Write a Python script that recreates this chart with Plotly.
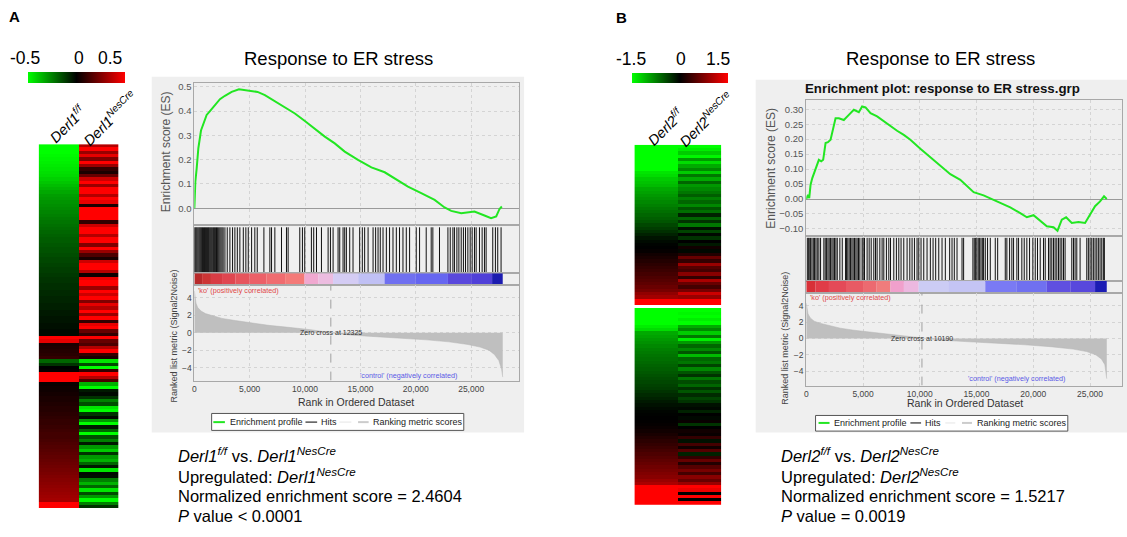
import plotly.graph_objects as go

W, H = 1127, 537

# ---------------- data ----------------
cbar_labels_A = ["-0.5", "0", "0.5"]
cbar_labels_B = ["-1.5", "0", "1.5"]
col_labels_A = ["<i>Derl1</i><sup><i>f/f</i></sup>", "<i>Derl1</i><sup><i>NesCre</i></sup>"]
col_labels_B = ["<i>Derl2</i><sup><i>f/f</i></sup>", "<i>Derl2</i><sup><i>NesCre</i></sup>"]

heat_A_ff = [-0.5, -0.5, -0.5, -0.49, -0.48, -0.47, -0.46, -0.45, -0.44, -0.43,
             -0.41, -0.39, -0.37, -0.35, -0.33, -0.31, -0.3, -0.29, -0.28, -0.27,
             -0.26, -0.25, -0.24, -0.23, -0.22, -0.21, -0.2, -0.19, -0.18, -0.18,
             -0.17, -0.16, -0.16, -0.15, -0.14, -0.14, -0.13, -0.12, -0.12, -0.11,
             -0.1, -0.1, -0.09, -0.09, -0.08, -0.08, -0.07, -0.07, -0.06, -0.06,
             -0.05, -0.05, -0.04, -0.04, -0.03, -0.03, -0.02, -0.02,
             0.5, 0.45,
             0.05, 0.06, 0.07, 0.08, 0.1,
             -0.2, -0.1,
             0.0, 0.01,
             0.5, 0.5, 0.5,
             0.02, 0.03, 0.03, 0.04, 0.05, 0.05, 0.06, 0.07, 0.07, 0.08, 0.09, 0.1,
             0.1, 0.11, 0.12, 0.13, 0.13, 0.14, 0.15, 0.16, 0.17, 0.18, 0.19, 0.2,
             0.21, 0.22, 0.23, 0.24, 0.25, 0.26, 0.27, 0.28, 0.29, 0.3, 0.31, 0.32,
             0.5, 0.5]
heat_A_nes = [0.35, 0.5, 0.3, 0.45, 0.25, 0.5, 0.3, 0.1, 0.05, 0.2,
              0.4, 0.5, 0.3, 0.5, 0.5, 0.35, 0.5, 0.45, 0.05, 0.5,
              0.5, 0.5, 0.5, 0.1, 0.4, 0.5, 0.5, 0.35, 0.5, 0.5,
              0.25, 0.5, 0.3, 0.15, 0.05, 0.4, 0.5, 0.5, 0.35, 0.02,
              0.45, 0.5, 0.5, 0.3, 0.5, 0.4, 0.5, 0.25, 0.45, 0.35,
              0.5, 0.3, 0.5, 0.1, 0.45, 0.5, 0.2, 0.1,
              0.5, 0.2, 0.15, 0.35, 0.5, 0.1, 0.05, -0.45, -0.15, -0.5, 0.1, 0.5, 0.35, 0.15,
              -0.35, -0.5, -0.05, -0.02, -0.1, -0.25, -0.15, -0.45, -0.5, -0.1,
              -0.02, -0.3, -0.5, -0.05, -0.2, -0.5, -0.15, -0.25, -0.05, -0.3,
              -0.4, -0.1, -0.3, -0.35, -0.2, -0.05, -0.45, -0.02, -0.03, -0.25,
              -0.35, -0.2, -0.45, -0.15, -0.3, -0.5, -0.25, -0.1]

heat_B_ff = [-1.5, -1.5, -1.5, -1.5, -1.5, -1.5, -1.5, -1.5,
             -1.35, -1.3,
             -1.2, -1.15, -1.1,
             -1.0, -0.95, -0.9, -0.85, -0.8, -0.75, -0.7, -0.65, -0.6, -0.55, -0.5, -0.42, -0.35, -0.28,
             -0.2, -0.12, -0.06, -0.02, 0.0, 0.03,
             0.1, 0.15, 0.2, 0.25, 0.3, 0.35, 0.4, 0.45, 0.5, 0.55, 0.62, 0.7,
             0.85, 0.95,
             1.5, 1.5,
             None,
             -1.5, -1.5, -1.5, -1.5, -1.5,
             -1.4, -1.3,
             -1.0, -0.95, -0.9, -0.85, -0.8,
             -0.75, -0.72, -0.68, -0.65, -0.62, -0.58, -0.55, -0.52, -0.48, -0.45, -0.42, -0.38,
             -0.35, -0.3, -0.25, -0.2, -0.15,
             -0.1, -0.06, -0.03, -0.01, 0.0, 0.01, 0.03, 0.06, 0.1,
             0.15, 0.2, 0.25, 0.3, 0.35, 0.4, 0.45, 0.5, 0.55, 0.6, 0.65, 0.7, 0.75, 0.8, 0.9, 1.0,
             1.5, 1.5, 1.5, 1.5, 1.5, 1.5]
heat_B_nes = [-1.5, -1.4, -1.2, -1.45, -0.9, -1.3, -1.0, -0.8,
              -1.2, -0.7, -1.0, -0.6, -0.9,
              -0.8, -0.7, -0.55, -0.75, -0.6, -0.8, -0.5, -0.65, -0.2, -0.6, -0.3, -0.7, -0.1, -0.4,
              -0.05, -0.3, 0.0, -0.15, 0.1, -0.05,
              0.2, 0.6, 0.3, 0.9, 0.5, 0.4, 0.8, 0.3, 1.0, 0.6, 0.4, 0.7,
              1.2, 0.9,
              1.5, 1.5,
              None,
              -1.5, -1.45, -1.5, -1.4, -1.5,
              -1.0, -0.8, -1.2, -0.7, -1.4, -0.9, -0.6,
              -0.8, -0.5, -1.1, -0.6, -0.7, -0.4, -0.8, -0.5, -0.3, -0.7, -0.45, -0.6, -0.3,
              -0.5, -0.25, -0.4, -0.3,
              -0.1, -0.05, -0.2, 0.0, -0.05, 0.05, -0.3, 0.0, 0.1,
              0.05, 0.3, -0.1, 0.4, 0.1, 0.5, -0.2, 0.3, 0.6, 0.2, 0.5, 0.7, 0.4, 0.8, 0.6, 0.9,
              1.5, 1.4, 0.0, 1.5, 0.0, 1.5]

# GSEA A (Derl1)
es_rank_A = [0, 90, 210, 360, 600, 810, 1110, 1410, 1860, 2310, 2760, 3370, 4030, 4570,
             5170, 5710, 6370, 7270, 8170, 9080, 9980, 10880, 11780, 12680, 13580, 14780,
             15990, 17190, 18390, 19290, 20490, 21700, 22600, 23200, 24100, 25300, 26200,
             26800, 27260, 27560, 27770]
es_val_A = [0.0, 0.11, 0.164, 0.247, 0.32, 0.35, 0.384, 0.40, 0.425, 0.449, 0.463, 0.479,
            0.49, 0.486, 0.482, 0.479, 0.466, 0.441, 0.418, 0.39, 0.359, 0.326, 0.295, 0.267,
            0.233, 0.199, 0.168, 0.148, 0.116, 0.089, 0.062, 0.034, 0.003, -0.011, -0.021,
            -0.014, -0.03, -0.041, -0.034, -0.003, 0.007]
hits_A = [0, 80, 160, 240, 330, 420, 500, 580, 660, 740, 830, 920, 1000, 1090, 1180, 1270,
          1350, 1440, 1530, 1620, 1720, 1810, 1900, 2000, 2100, 2200, 2300, 2400, 2500, 2600,
          2760, 2970, 3210, 3450, 3660, 3880, 4110, 4420, 4650, 4870, 5170, 5460, 5680,
          6280, 6820, 6970, 7270, 7870, 8320, 8470, 9520, 9760, 9970, 10570, 10780, 11030,
          11480, 12080, 12290, 12530, 12980, 13130, 13430, 13580, 13730, 14030, 14330, 14930,
          15170, 15380, 15690, 16140, 16370, 16590, 16790, 17040, 17340, 17630, 17940, 18240,
          18530, 18840, 19140, 19440, 20040, 20340, 20940, 21390, 21540, 22140, 22900, 23110,
          23350, 23490, 23710, 23890, 24100, 24300, 24490, 24700, 24910, 25090, 25300, 25450,
          25750, 25990, 26200, 26350, 26950, 27190, 27400, 27700]
bar_edges_A = [0, 700, 1500, 2500, 3700, 5000, 6500, 8200, 9950, 11200, 12530, 14800, 17180,
               20000, 22900, 25000, 26890, 27850]
bar_colors_A = ["#b82a2a", "#cc3535", "#d83c44", "#e04650", "#e6545c", "#ec6068", "#f06c70",
                "#f47a78", "#f0a8d0", "#ecbce0", "#d4ccf4", "#c0c0f4", "#7070f0", "#6666f0",
                "#5a48dc", "#5040d8", "#1c1cb0"]
metric_rank_A = [0, 60, 150, 300, 600, 1000, 1600, 2500, 3700, 5000, 6700, 8500, 10500, 12325,
                 14000, 16000, 18500, 21000, 23000, 24700, 25800, 26600, 27100, 27500, 27750, 27850]
metric_val_A = [4.8, 4.0, 3.4, 2.9, 2.5, 2.2, 1.95, 1.65, 1.4, 1.15, 0.85, 0.62, 0.35, 0.0,
                -0.25, -0.42, -0.6, -0.82, -1.05, -1.35, -1.65, -2.0, -2.5, -3.2, -4.2, -5.1]
zero_cross_A = 12325

# GSEA B (Derl2)
es_rank_B = [0, 150, 260, 380, 530, 730, 910, 1110, 1320, 1490, 1700, 1910, 2140, 2370, 2580,
             2870, 3310, 3750, 4190, 4630, 4920, 5220, 5660, 6240, 6830, 7420, 8000, 8590, 9170,
             10050, 10930, 11810, 12690, 13570, 14160, 14740, 15620, 16350, 17090, 17970, 18850,
             19430, 20020, 20610, 21190, 21780, 22130, 22510, 22890, 23390, 23980, 24560, 25000,
             25440, 25880, 26230, 26470]
es_val_B = [0.0, 0.014, 0.003, 0.048, 0.07, 0.092, 0.109, 0.131, 0.126, 0.131, 0.187, 0.19,
            0.198, 0.242, 0.27, 0.27, 0.264, 0.281, 0.298, 0.29, 0.309, 0.306, 0.287, 0.276,
            0.259, 0.242, 0.228, 0.214, 0.198, 0.168, 0.139, 0.109, 0.083, 0.064, 0.042, 0.023,
            0.012, 0.0, -0.013, -0.028, -0.047, -0.061, -0.054, -0.072, -0.091, -0.094, -0.106,
            -0.069, -0.061, -0.08, -0.077, -0.08, -0.052, -0.024, -0.008, 0.009, 0.0]
hits_B = [90, 180, 260, 380, 500, 620, 730, 850, 970, 1110, 1260, 1550, 1670, 1790, 1910, 2020,
          2140, 2260, 2370, 2490, 2610, 2730, 2960, 3170, 3460, 3550, 3660, 3780, 3900, 4020,
          4130, 4250, 4370, 4480, 4600, 4720, 4920, 5010, 5130, 5360, 5540, 5720, 5950, 6100,
          6240, 6480, 6680, 6830, 7060, 7270, 7420, 7710, 7940, 8150, 8350, 8590, 8880, 9120,
          9320, 9530, 9760, 9910, 10110, 10350, 10640, 10930, 11170, 11400, 11670, 11960, 12250,
          12630, 12840, 13040, 13280, 13720, 13860, 14680, 14800, 14920, 15030, 15150, 15270,
          15390, 15510, 15620, 15770, 15970, 16210, 16650, 16860, 17530, 17670, 17910, 18110,
          18260, 18550, 18700, 18990, 19200, 19430, 19670, 19960, 20170, 20370, 20610, 20900,
          21050, 21340, 21480, 21630, 21780, 21920, 22070, 22220, 22360, 22510, 22660, 22800,
          23390, 23540, 23680, 23830, 24120, 24710, 24850, 25000, 25150, 25290, 25440, 25590,
          25730, 25880, 26030, 26170, 26260]
bar_edges_B = [0, 800, 2000, 3500, 5000, 6200, 7410, 8600, 9900, 12500, 15770, 18500, 21190,
               23300, 25440, 26470]
bar_colors_B = ["#d83038", "#e03c48", "#e44a58", "#e85a64", "#ec6a70", "#f07c7c", "#f0a0cc",
                "#ecb8e0", "#ccccf4", "#c4c4f4", "#7a7af4", "#7070f0", "#6050e0", "#5848dc",
                "#1c1cb4"]
metric_rank_B = [0, 50, 150, 350, 700, 1200, 2000, 3000, 4200, 5600, 7000, 8500, 10190, 12000,
                 14000, 16500, 19000, 21500, 23500, 24700, 25500, 26000, 26300, 26470]
metric_val_B = [4.3, 3.6, 3.0, 2.5, 2.1, 1.85, 1.55, 1.25, 1.0, 0.78, 0.52, 0.3, 0.0, -0.22,
                -0.38, -0.55, -0.75, -1.0, -1.3, -1.6, -2.0, -2.5, -3.2, -4.9]
zero_cross_B = 10190

stats_A = ["<i>Derl1</i><sup><i>f/f</i></sup> vs. <i>Derl1</i><sup><i>NesCre</i></sup>",
           "Upregulated: <i>Derl1</i><sup><i>NesCre</i></sup>",
           "Normalized enrichment score = 2.4604",
           "<i>P</i> value &lt; 0.0001"]
stats_B = ["<i>Derl2</i><sup><i>f/f</i></sup> vs. <i>Derl2</i><sup><i>NesCre</i></sup>",
           "Upregulated: <i>Derl2</i><sup><i>NesCre</i></sup>",
           "Normalized enrichment score = 1.5217",
           "<i>P</i> value = 0.0019"]

# ---------------- helpers ----------------
FONT = "Liberation Sans, Arial, sans-serif"


def fx(px):
    return px / W


def fy(py):
    return 1 - py / H


def xdom(a, b):
    return [fx(a), fx(b)]


def ydom(top, bottom):
    return [fy(bottom), fy(top)]


GREEN = "#22e622"
cs = [[0, "#00ff00"], [0.5, "#000000"], [1, "#ff0000"]]

fig = go.Figure()
layout = dict(width=W, height=H, margin=dict(l=0, r=0, t=0, b=0),
              paper_bgcolor="white", plot_bgcolor="white", showlegend=False,
              font=dict(family=FONT, color="#000"))
annotations = []
shapes = []


def ann(text, x, y, size, color="#000", xanchor="center", yanchor="middle", angle=0, **kw):
    annotations.append(dict(text=text, x=fx(x), y=fy(y), xref="paper", yref="paper",
                            showarrow=False, xanchor=xanchor, yanchor=yanchor, textangle=angle,
                            font=dict(size=size, color=color, family=FONT), **kw))


def heatmap(ax_id, ff, nes, zr, x0, x1, top, bottom, cb_center, cb_top, cb_len, cb_th):
    xa = "x" if ax_id == 1 else f"x{ax_id}"
    ya = "y" if ax_id == 1 else f"y{ax_id}"
    z = [[a, b] for a, b in zip(ff, nes)]
    fig.add_trace(go.Heatmap(z=z, x=[0, 1], y=list(range(len(z))), colorscale=cs,
                             zmin=-zr, zmax=zr, xaxis=xa, yaxis=ya, hoverinfo="skip",
                             colorbar=dict(orientation="h", x=fx(cb_center), xanchor="center",
                                           y=fy(cb_top), yanchor="top", len=cb_len,
                                           lenmode="pixels", thickness=cb_th,
                                           thicknessmode="pixels", showticklabels=False,
                                           ticks="", outlinewidth=0, xpad=0, ypad=0)))
    kx = "xaxis" if ax_id == 1 else f"xaxis{ax_id}"
    ky = "yaxis" if ax_id == 1 else f"yaxis{ax_id}"
    layout[kx] = dict(domain=xdom(x0, x1), anchor=ya, visible=False, range=[-0.5, 1.5])
    layout[ky] = dict(domain=ydom(top, bottom), anchor=xa, visible=False,
                      range=[len(z) - 0.5, -0.5])


def gsea(base, left, right, xmax, es_top, es_bot, hit_bot, bar_bot, met_bot,
         es_range, es_ticks, es_fmt, met_range,
         es_rank, es_val, hits, edges, colors, m_rank, m_val, zc):
    ids = [base, base + 1, base + 2, base + 3]  # ES, hits, bar, metric
    doms = [(es_top, es_bot), (es_bot, hit_bot), (hit_bot, bar_bot), (bar_bot, met_bot)]
    axline = dict(showline=True, linecolor="#a8a8a8", linewidth=1, mirror=True)
    grid = dict(showgrid=True, gridcolor="#d4d4d4", griddash="dot", gridwidth=1)
    for i, (aid, (t, b)) in enumerate(zip(ids, doms)):
        xa = dict(domain=xdom(left, right), anchor=f"y{aid}", range=[0, xmax],
                  tickvals=[0, 5000, 10000, 15000, 20000, 25000], zeroline=False,
                  showticklabels=(i == 3), tickformat=",", ticks="",
                  tickfont=dict(size=8.5, color="#444"), **axline, **grid)
        layout[f"xaxis{aid}"] = xa
        ya = dict(domain=ydom(t, b), anchor=f"x{aid}", ticks="", **axline)
        if i == 0:
            ya.update(range=es_range, tickvals=es_ticks, tickformat=es_fmt, zeroline=True,
                      zerolinecolor="#9a9a9a", zerolinewidth=1,
                      tickfont=dict(size=9.5, color="#555"), **grid)
        elif i == 3:
            ya.update(range=met_range, tickvals=[-4, -2, 0, 2, 4], zeroline=False,
                      tickfont=dict(size=8.5, color="#444"), **grid)
        else:
            ya.update(range=[0, 1.04], showticklabels=False, showgrid=False, zeroline=False)
        layout[f"yaxis{aid}"] = ya
    # enrichment profile
    fig.add_trace(go.Scatter(x=es_rank, y=es_val, mode="lines", line=dict(color=GREEN, width=2),
                             xaxis=f"x{ids[0]}", yaxis=f"y{ids[0]}", hoverinfo="skip"))
    # hits
    hx, hy = [], []
    for h in hits:
        hx += [h, h, None]
        hy += [0, 1, None]
    fig.add_trace(go.Scatter(x=hx, y=hy, mode="lines", line=dict(color="#111", width=1),
                             xaxis=f"x{ids[1]}", yaxis=f"y{ids[1]}", hoverinfo="skip"))
    # ranking colour bar
    centers = [(a + b) / 2 for a, b in zip(edges[:-1], edges[1:])]
    widths = [b - a for a, b in zip(edges[:-1], edges[1:])]
    fig.add_trace(go.Bar(x=centers, y=[1.04] * len(centers), width=widths, base=0,
                         marker=dict(color=colors, line=dict(width=0)),
                         xaxis=f"x{ids[2]}", yaxis=f"y{ids[2]}", hoverinfo="skip"))
    # ranked list metric
    fig.add_trace(go.Scatter(x=m_rank, y=m_val, mode="lines", fill="tozeroy",
                             fillcolor="#bfbfbf", line=dict(color="#b5b5b5", width=0.5),
                             xaxis=f"x{ids[3]}", yaxis=f"y{ids[3]}", hoverinfo="skip"))
    shapes.append(dict(type="line", xref=f"x{ids[3]}", yref=f"y{ids[3]}", x0=zc, x1=zc,
                       y0=met_range[0], y1=met_range[1],
                       line=dict(color="#a0a0a0", width=1, dash="dash")))
    annotations.append(dict(text=f"Zero cross at {zc}", x=zc, y=0, xref=f"x{ids[3]}",
                            yref=f"y{ids[3]}", showarrow=False,
                            font=dict(size=7, color="#333", family=FONT)))


# ---------------- panel A ----------------
ann("<b>A</b>", 13, 15, 15)
ann("Response to ER stress", 337, 57, 18.5)
heatmap(1, heat_A_ff, heat_A_nes, 0.5, 36.7, 116.7, 142.7, 508, 74.5, 70, 97, 11)
for t, x in zip(cbar_labels_A, [23, 77.5, 108]):
    ann(t, x, 56, 17.5)
ann(col_labels_A[0], 65, 122, 14.5, angle=-45)
ann(col_labels_A[1], 108, 116, 14.5, angle=-45)

shapes.append(dict(type="rect", xref="paper", yref="paper", x0=fx(150), x1=fx(523),
                   y0=fy(432), y1=fy(75), fillcolor="#efefef", line=dict(width=0),
                   layer="below"))
gsea(2, 192.7, 517.7, 29300, 81.7, 224.3, 272.3, 284.3, 380,
     [-0.071, 0.514], [0.0, 0.1, 0.2, 0.3, 0.4, 0.5], ".1f", [-5.5, 5.46],
     es_rank_A, es_val_A, hits_A, bar_edges_A, bar_colors_A, metric_rank_A, metric_val_A,
     zero_cross_A)
ann("Enrichment score (ES)", 165, 150, 12, "#555", angle=-90)
ann("Ranked list metric (Signal2Noise)", 172, 335, 9, "#444", angle=-90)
ann("Rank in Ordered Dataset", 355, 401.7, 10.5, "#333")
ann("'ko' (positively correlated)", 194, 289.5, 7.2, "#e04848", xanchor="left")
ann("'control' (negatively correlated)", 407, 375, 7.2, "#5a5ae6")

# ---------------- panel B ----------------
ann("<b>B</b>", 621, 16, 15)
ann("Response to ER stress", 940, 57, 18.5)
heatmap(10, heat_B_ff, heat_B_nes, 1.5, 633.5, 720.5, 143.3, 505, 679, 71, 96, 10)
for t, x in zip(cbar_labels_B, [630, 680, 717]):
    ann(t, x, 57, 17.5)
ann(col_labels_B[0], 664, 125, 14.5, angle=-45)
ann(col_labels_B[1], 705, 117, 14.5, angle=-45)

shapes.append(dict(type="rect", xref="paper", yref="paper", x0=fx(755), x1=fx(1127),
                   y0=fy(432), y1=fy(78), fillcolor="#efefef", line=dict(width=0),
                   layer="below"))
ann("<b>Enrichment plot: response to ER stress.grp</b>", 941.7, 86.7, 13.3, "#111")
gsea(6, 805.7, 1122.3, 27840, 98.3, 235, 280, 291.7, 385,
     [-0.124, 0.331], [-0.10, -0.05, 0.0, 0.05, 0.10, 0.15, 0.20, 0.25, 0.30], ".2f",
     [-5.74, 5.58],
     es_rank_B, es_val_B, hits_B, bar_edges_B, bar_colors_B, metric_rank_B, metric_val_B,
     zero_cross_B)
ann("Enrichment score (ES)", 770, 166.7, 12, "#555", angle=-90)
ann("Ranked list metric (Signal2Noise)", 785, 337.5, 9, "#444", angle=-90)
ann("Rank in Ordered Dataset", 964.3, 403, 10.5, "#333")
ann("'ko' (positively correlated)", 807, 296.7, 7.2, "#e04848", xanchor="left")
ann("'control' (negatively correlated)", 1016, 378.3, 7.2, "#5a5ae6")


# ---------------- GSEA legends ----------------
def legend(x0, x1, y0, y1, yc, g, h, f, r, tx):
    shapes.append(dict(type="rect", xref="paper", yref="paper", x0=fx(x0), x1=fx(x1),
                       y0=fy(y1), y1=fy(y0), fillcolor="white",
                       line=dict(color="#555", width=1)))
    for (a, b), col, wd in zip([g, h, f, r], [GREEN, "#555", "#eeeeee", "#cccccc"],
                               [2, 1.5, 1.5, 2]):
        shapes.append(dict(type="line", xref="paper", yref="paper", x0=fx(a), x1=fx(b),
                           y0=fy(yc), y1=fy(yc), line=dict(color=col, width=wd)))
    for t, x in zip(["Enrichment profile", "Hits", "Ranking metric scores"], tx):
        ann(t, x, yc, 9, "#222", xanchor="left")


legend(210, 462.6, 413, 430, 421.7, (211.7, 223.3), (304, 315.7), (338, 350),
       (356.7, 367.3), [226, 318, 369.5])
legend(815, 1067.7, 415, 430.7, 422.5, (818, 829), (910, 920.7), (945, 955),
       (961.7, 971.7), [831, 923, 974.5])

# ---------------- stats text ----------------
for i, t in enumerate(stats_A):
    ann(t, 174, 455 + 20.3 * i, 16.5, xanchor="left")
for i, t in enumerate(stats_B):
    ann(t, 778, 455 + 20.3 * i, 16.5, xanchor="left")

layout["annotations"] = annotations
layout["shapes"] = shapes
fig.update_layout(**layout)
fig.write_html("out.html", config={"displayModeBar": False},
               post_script="document.body.style.margin='0';document.body.style.padding='0';")
